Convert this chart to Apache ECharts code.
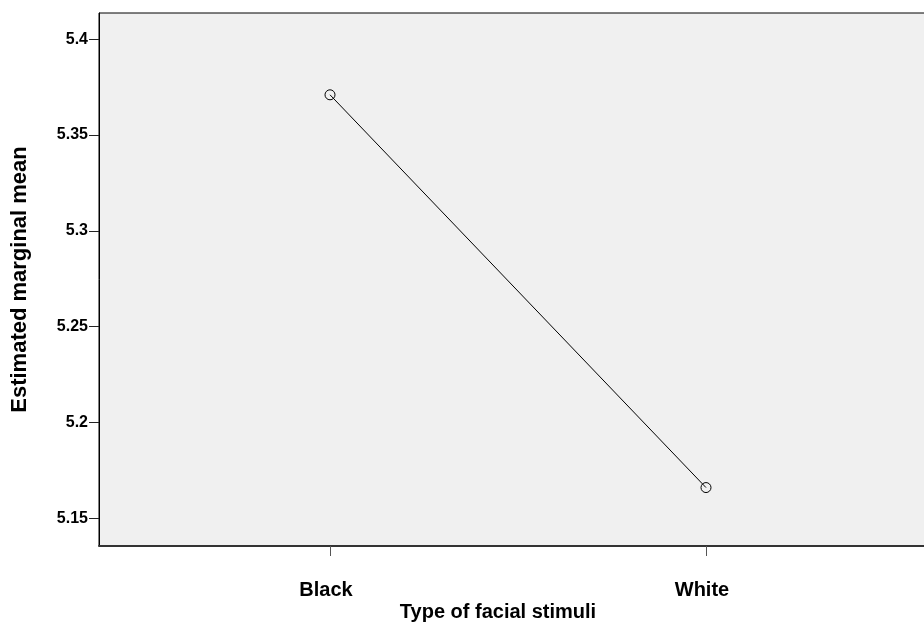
<!DOCTYPE html>
<html>
<head>
<meta charset="utf-8">
<script src="https://cdn.jsdelivr.net/npm/echarts@6/dist/echarts.min.js"></script>
<style>html,body{margin:0;padding:0;background:#fff}#c{width:924px;height:622px}</style>
</head>
<body>
<div id="c"></div>
<script>
const categories = ['Black', 'White'];
const means = [5.371, 5.166];
const yTicks = [5.15, 5.2, 5.25, 5.3, 5.35, 5.4];
const xTitle = 'Type of facial stimuli';
const yTitle = 'Estimated marginal mean';

const font = "'Liberation Sans', Arial, sans-serif";
const chart = echarts.init(document.getElementById('c'));
chart.setOption({
  animation: false,
  grid: {
    left: 99, top: 13, right: -13, bottom: 76,
    outerBoundsMode: 'none', containLabel: false,
    show: true, backgroundColor: '#f0f0f0', borderColor: '#000', borderWidth: 1
  },
  xAxis: {
    type: 'value', min: -0.6144, max: 1.6144,
    name: xTitle, nameLocation: 'middle', nameGap: 56, nameMoveOverlap: false,
    nameTextStyle: { fontFamily: font, fontWeight: 'bold', fontSize: 20, color: '#000', padding: [0, 40, 0, 0] },
    splitLine: { show: false },
    axisLine: { show: true, onZero: false, lineStyle: { color: '#333', width: 2 } },
    axisTick: { show: true, length: 10, customValues: categories.map((c, i) => i), lineStyle: { color: '#555', width: 1 } },
    axisLabel: {
      customValues: categories.map((c, i) => i),
      formatter: v => categories[Math.round(v)] || '',
      margin: 34, padding: [0, 8, 0, 0],
      fontFamily: font, fontWeight: 'bold', fontSize: 20, color: '#000'
    }
  },
  yAxis: {
    type: 'value', min: 5.1355, max: 5.4137,
    name: yTitle, nameLocation: 'middle', nameGap: 68, nameMoveOverlap: false,
    nameTextStyle: { fontFamily: font, fontWeight: 'bold', fontSize: 22, color: '#000' },
    splitLine: { show: false },
    axisLine: { show: true, onZero: false, lineStyle: { color: '#000', width: 1 } },
    axisTick: { show: true, length: 10, customValues: yTicks, lineStyle: { color: '#222', width: 1 } },
    axisLabel: {
      customValues: yTicks,
      formatter: v => String(+v.toFixed(2)),
      margin: 11, fontFamily: font, fontWeight: 'bold', fontSize: 16, color: '#000'
    }
  },
  series: [{
    type: 'line',
    data: categories.map((c, i) => [i, means[i]]),
    symbol: 'circle', symbolSize: 10,
    lineStyle: { color: '#000', width: 1 },
    itemStyle: { color: 'rgba(0,0,0,0)', borderColor: '#000', borderWidth: 1 }
  }]
});
</script>
</body>
</html>
